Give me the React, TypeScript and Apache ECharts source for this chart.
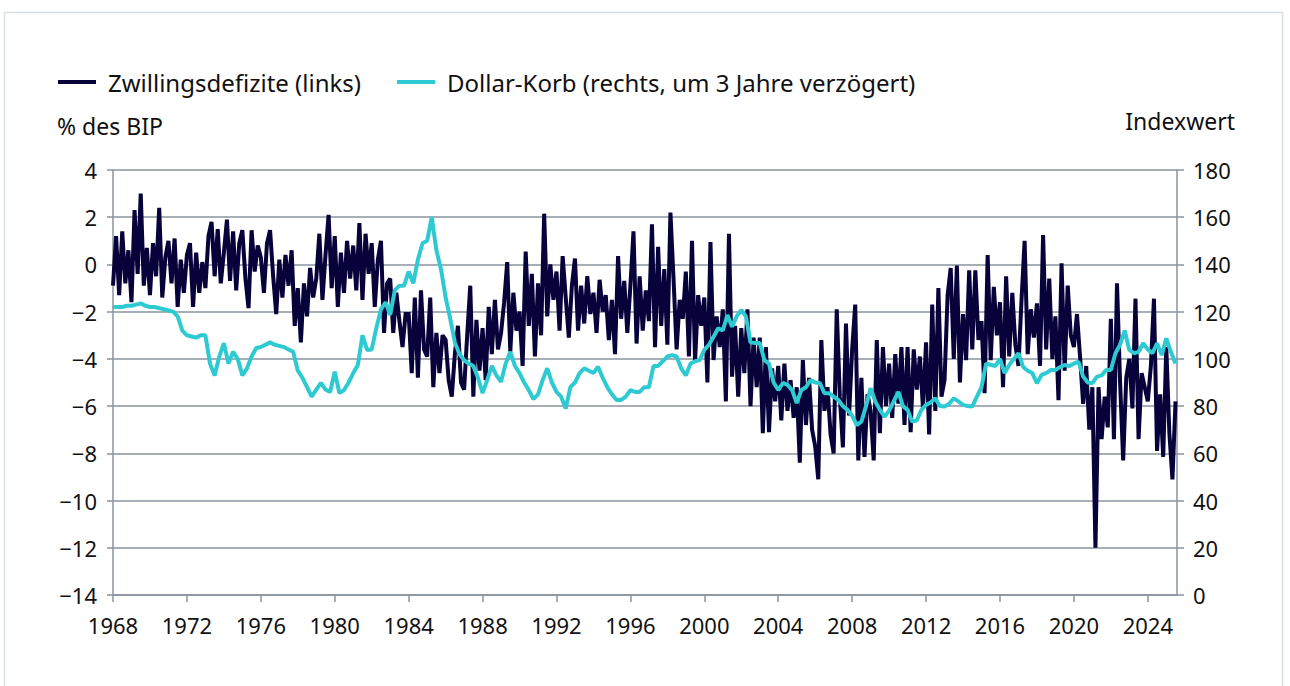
import React, { useEffect, useRef } from "react";
import * as echarts from "echarts";

// Zwillingsdefizite (% des BIP), bimonthly values starting Jan 1968 (6 per year)
const deficitStart = 1968;
const deficitPerYear = 6;
const deficit: number[] = [
  -0.9, 1.2, -1.3, 1.4, -0.8, 0.6, // 1968
  -1.6, 2.3, -0.4, 3.0, -0.9, 0.7, // 1969
  -1.3, 0.9, -0.5, 2.4, -1.4, 0.3, // 1970
  1.0, -0.8, 1.1, -1.8, 0.2, -1.2, // 1971
  0.4, 0.9, -1.8, 0.5, -1.2, 0.1, // 1972
  -1.0, 1.2, 1.8, -0.5, 1.5, -0.8, // 1973
  0.5, 1.9, -0.7, 1.4, -1.1, 0.9, // 1974
  1.45, -0.6, -1.85, 1.45, -0.3, 0.8, // 1975
  0.3, -1.2, 0.9, 1.45, -0.5, -2.1, // 1976
  0.2, -1.4, 0.4, -0.9, 0.6, -2.6, // 1977
  -1.0, -3.3, -0.8, -2.2, -0.15, -1.4, // 1978
  -0.6, 1.3, -1.5, 0.4, 2.1, -1.0, // 1979
  1.2, -1.8, 0.5, -1.2, 1.0, -0.6, // 1980
  0.8, -1.1, 1.75, -1.5, 1.3, -0.4, // 1981
  0.9, -1.8, 0.2, 1.0, -2.9, -0.8, // 1982
  -0.6, -2.9, -1.2, -2.4, -3.5, -2.1, // 1983
  -2.1, -4.6, -1.4, -4.8, -1.1, -3.6, // 1984
  -3.9, -1.4, -5.2, -2.9, -4.6, -3.0, // 1985
  -3.2, -4.9, -5.6, -3.8, -2.6, -5.0, // 1986
  -5.3, -3.0, -0.9, -5.6, -2.35, -4.5, // 1987
  -2.7, -4.9, -1.8, -3.8, -1.5, -3.6, // 1988
  -2.9, -1.6, 0.1, -3.7, -1.2, -2.8, // 1989
  -2.0, -4.3, 0.55, -2.6, -0.4, -3.9, // 1990
  -0.8, -3.0, 2.15, -2.2, 0.0, -1.5, // 1991
  -0.3, -2.8, 0.35, -1.4, -3.1, -0.9, // 1992
  0.25, -2.8, -0.9, -2.5, -0.5, -2.1, // 1993
  -1.2, -2.9, -0.65, -2.0, -1.3, -3.2, // 1994
  -1.5, -3.8, 0.35, -2.3, -0.7, -2.9, // 1995
  -0.9, 1.4, -3.35, -0.5, -2.8, -1.1, // 1996
  -2.4, 1.7, -3.5, 0.75, -2.6, -0.2, // 1997
  -3.4, 2.2, -0.6, -3.6, -1.5, -2.3, // 1998
  -0.3, -3.9, 1.0, -4.1, -1.3, -2.6, // 1999
  -1.4, -5.0, 0.95, -4.05, -2.2, -3.5, // 2000
  -1.9, -5.8, 1.3, -4.75, -2.6, -5.6, // 2001
  -2.7, -4.6, -1.9, -6.0, -3.1, -5.2, // 2002
  -3.1, -7.15, -3.5, -7.1, -4.4, -5.8, // 2003
  -4.3, -6.6, -4.2, -6.2, -4.9, -6.5, // 2004
  -5.2, -8.4, -4.05, -6.8, -4.8, -7.0, // 2005
  -7.7, -9.1, -3.2, -6.2, -5.2, -7.2, // 2006
  -8.0, -1.9, -5.6, -7.75, -2.5, -6.4, // 2007
  -3.6, -1.7, -8.3, -4.8, -8.15, -5.5, // 2008
  -6.2, -8.3, -3.2, -7.15, -3.5, -6.0, // 2009
  -4.2, -6.5, -3.8, -5.9, -3.5, -6.8, // 2010
  -3.5, -7.1, -3.6, -5.3, -3.9, -6.1, // 2011
  -3.3, -7.2, -1.7, -6.2, -1.0, -5.6, // 2012
  -4.9, -1.3, -0.15, -4.0, -0.05, -5.0, // 2013
  -2.1, -4.05, -0.25, -3.6, -0.25, -3.2, // 2014
  -2.4, -5.45, 0.4, -4.05, -0.95, -3.0, // 2015
  -1.6, -5.2, -0.5, -3.9, -1.2, -3.4, // 2016
  -4.3, -1.5, 1.0, -3.8, -1.9, -3.1, // 2017
  -1.65, -4.3, 1.25, -3.6, -0.6, -4.0, // 2018
  -2.2, -5.75, 0.05, -4.5, -0.9, -3.0, // 2019
  -3.5, -2.1, -3.9, -5.9, -4.3, -7.0, // 2020
  -5.2, -12.0, -5.2, -7.4, -5.6, -6.9, // 2021
  -2.3, -7.4, -0.8, -5.0, -8.3, -4.8, // 2022
  -4.0, -6.1, -1.45, -7.4, -4.6, -5.2, // 2023
  -5.8, -4.3, -1.45, -7.9, -5.5, -8.15, // 2024
  -3.5, -7.15, -9.1, -5.8, // 2025
];

// Dollar-Korb (Indexwert, um 3 Jahre verzögert), quarterly values starting 1968
const dollarStart = 1968;
const dollarPerYear = 4;
const dollar: number[] = [
  122, 122, 122, 122.5, // 1968
  122.5, 123, 123.5, 122.5, // 1969
  122, 122, 121.5, 121, // 1970
  120.5, 120, 118, 112, // 1971
  110, 109.5, 109, 110, // 1972
  110, 98, 93, 101, // 1973
  106.7, 98, 103, 100, // 1974
  93, 96, 101, 104.6, // 1975
  105, 106, 107, 106, // 1976
  105.5, 105, 104, 103, // 1977
  95, 92, 88, 84, // 1978
  87, 89.8, 87, 86, // 1979
  94.6, 85.5, 86.8, 90, // 1980
  94, 97.4, 110, 103.8, // 1981
  104, 113, 121, 124, // 1982
  118.6, 129, 131, 131, // 1983
  137, 132, 142, 149, // 1984
  150, 160, 146, 138, // 1985
  126, 117, 107, 102, // 1986
  99.5, 98, 97, 92, // 1987
  85.5, 91, 97, 93, // 1988
  90.3, 98, 103, 97, // 1989
  94, 90, 86.8, 83, // 1990
  85, 91, 96, 90, // 1991
  86, 84, 79, 88, // 1992
  90, 94, 96, 95, // 1993
  94, 96.7, 92, 88, // 1994
  85, 82.6, 82.6, 84, // 1995
  86.8, 86, 86, 88, // 1996
  88, 97, 97, 99, // 1997
  101, 101.6, 101, 96, // 1998
  93, 98, 99, 99.5, // 1999
  103.8, 106, 109.4, 113, // 2000
  112, 118.6, 113.6, 118, // 2001
  120.7, 118, 107, 106.7, // 2002
  106.7, 99.5, 98, 90, // 2003
  86.8, 89.8, 89, 86.8, // 2004
  81.3, 86.8, 88, 91, // 2005
  90, 89.8, 85.5, 85.5, // 2006
  84, 82.6, 80, 78.4, // 2007
  76, 72, 73.4, 80, // 2008
  87.6, 82, 78.4, 75.5, // 2009
  78, 82, 86, 80, // 2010
  78.4, 73.4, 74, 78.4, // 2011
  80.5, 81.5, 83.3, 80, // 2012
  79.8, 81, 83.3, 82, // 2013
  80.5, 80, 79.8, 84, // 2014
  88, 98, 97.5, 97, // 2015
  100, 94, 97.4, 100, // 2016
  102.4, 96.7, 95, 94, // 2017
  89.7, 93.2, 94, 95.3, // 2018
  95.3, 96.5, 97.4, 97, // 2019
  98, 98.8, 92.5, 90, // 2020
  89.7, 92.5, 93, 95.3, // 2021
  95.3, 102.4, 106, 112, // 2022
  103.8, 102.4, 103, 106.6, // 2023
  104, 102.4, 106.6, 101.6, // 2024
  108.7, 103, 98, // 2025
];

const yearTicks: number[] = [1968, 1972, 1976, 1980, 1984, 1988, 1992, 1996, 2000, 2004, 2008, 2012, 2016, 2020, 2024];
const seriesNames: string[] = ["Zwillingsdefizite (links)", "Dollar-Korb (rechts, um 3 Jahre verzögert)"];
const leftAxisTitle = "% des BIP";
const rightAxisTitle = "Indexwert";

const FONT = "'Noto Sans', sans-serif";
const DARK = "#07023a";
const CYAN = "#2ecad2";
const GRID = "#8b939c";

export default function App() {
  const ref = useRef<HTMLDivElement>(null);
  useEffect(() => {
    if (!ref.current) return;
    const chart = echarts.init(ref.current, undefined, { renderer: "svg" });
    const deficitPts = deficit.map((v, i) => [deficitStart + i / deficitPerYear, v]);
    const dollarPts = dollar.map((v, i) => [dollarStart + i / dollarPerYear, v]);
    const fmtNum = (v: number) => (v < 0 ? "\u2212" + Math.abs(v) : String(v));
    chart.setOption({
      animation: false,
      backgroundColor: "#ffffff",
      textStyle: { fontFamily: FONT },
      grid: { left: 113, right: 113, top: 170, bottom: 91, containLabel: false },
      legend: {
        left: 58,
        top: 69,
        padding: 0,
        itemWidth: 38,
        itemHeight: 4,
        itemGap: 36,
        icon: "rect",
        textStyle: { fontFamily: FONT, fontSize: 24, color: "#111", padding: [0, 0, 0, 7], lineHeight: 26 },
        data: [
          { name: seriesNames[0], itemStyle: { color: DARK } },
          { name: seriesNames[1], itemStyle: { color: CYAN } },
        ],
      },
      xAxis: {
        type: "value",
        min: 1968,
        max: 2025.58,
        interval: 4,
        axisLine: { show: true, onZero: false, lineStyle: { color: GRID, width: 1.5 } },
        axisTick: { show: true, length: 7, customValues: yearTicks, lineStyle: { color: GRID, width: 1.5 } },
        axisLabel: {
          customValues: yearTicks,
          margin: 19,
          fontFamily: FONT,
          fontSize: 22,
          color: "#111",
          formatter: (v: number) => String(Math.round(v)),
        },
        splitLine: { show: false },
      },
      yAxis: [
        {
          type: "value",
          min: -14,
          max: 4,
          interval: 2,
          position: "left",
          axisLine: { show: true, lineStyle: { color: GRID, width: 1.5 } },
          axisTick: { show: true, length: 6, lineStyle: { color: GRID, width: 1.5 } },
          axisLabel: { margin: 16, fontFamily: FONT, fontSize: 22, color: "#111", formatter: fmtNum },
          splitLine: { show: true, lineStyle: { color: GRID, width: 1.5 } },
        },
        {
          type: "value",
          min: 0,
          max: 180,
          interval: 20,
          position: "right",
          axisLine: { show: true, lineStyle: { color: GRID, width: 1.5 } },
          axisTick: { show: true, length: 7, lineStyle: { color: GRID, width: 1.5 } },
          axisLabel: { margin: 16, fontFamily: FONT, fontSize: 22, color: "#111" },
          splitLine: { show: false },
        },
      ],
      graphic: [
        {
          type: "rect",
          silent: true,
          z: -10,
          shape: { x: 4.5, y: 12.5, width: 1278, height: 720 },
          style: { fill: "none", stroke: "#d8dfe7", lineWidth: 1.5 },
        },
        {
          type: "text",
          left: 57,
          top: 114,
          style: { text: leftAxisTitle, fontFamily: FONT, fontSize: 23, fill: "#111" },
        },
        {
          type: "text",
          right: 55,
          top: 109,
          style: { text: rightAxisTitle, fontFamily: FONT, fontSize: 23, fill: "#111" },
        },
      ],
      series: [
        {
          name: seriesNames[0],
          type: "line",
          yAxisIndex: 0,
          data: deficitPts,
          showSymbol: false,
          symbol: "none",
          lineStyle: { color: DARK, width: 4, join: "miter", miterLimit: 3 },
          itemStyle: { color: DARK },
          z: 2,
        },
        {
          name: seriesNames[1],
          type: "line",
          yAxisIndex: 1,
          data: dollarPts,
          showSymbol: false,
          symbol: "none",
          lineStyle: { color: CYAN, width: 4 },
          itemStyle: { color: CYAN },
          z: 3,
        },
      ],
    });
    return () => chart.dispose();
  }, []);
  return (
    <div
      ref={ref}
      style={{ position: "fixed", left: 0, top: 0, width: 1290, height: 686, background: "#fff" }}
    />
  );
}
